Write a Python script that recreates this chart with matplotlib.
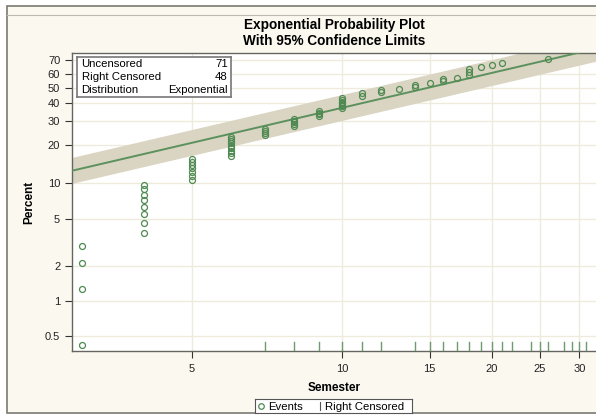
import numpy as np
import matplotlib.pyplot as plt
from matplotlib.patches import Rectangle

# failure times (semester) and their plotting positions (percent)
event_times = [3, 4, 5, 6, 7, 8, 9, 10, 11, 12, 13, 14, 15, 16, 17, 18, 19, 20, 21, 26]
event_pct = [
    [0.42, 1.26, 2.10, 2.94],
    [3.78, 4.62, 5.46, 6.30, 7.14, 7.98, 8.82, 9.66],
    [10.50, 11.34, 12.18, 13.03, 13.87, 14.71, 15.55],
    [16.39, 17.23, 18.07, 18.91, 19.75, 20.59, 21.43, 22.27, 23.11],
    [23.95, 24.79, 25.63, 26.47],
    [27.6, 28.5, 29.4, 30.3, 31.3],
    [32.7, 33.6, 34.5, 35.4],
    [37.1, 38.1, 39.0, 40.0, 41.0, 41.9, 42.9],
    [44.5, 46.3],
    [47.0, 48.5],
    [49.4],
    [50.8, 52.2],
    [53.6],
    [54.8, 56.0],
    [57.1],
    [59.1, 61.4, 63.5],
    [64.7],
    [66.4],
    [68.1],
    [70.7],
]
censor_times = [7, 8, 9, 10, 11, 12, 14, 15, 16, 17, 18, 19, 20, 21, 22, 24, 25, 26, 28, 29, 30, 31]

# exponential fit (scale) and 95% limits
theta = 21.5
theta_lo = 16.5
theta_hi = 27.6

n_uncens = 71
n_cens = 48

xticks = [5, 10, 15, 20, 25, 30]
yticks = [0.5, 1, 2, 5, 10, 20, 30, 40, 50, 60, 70]

green = '#4f8a52'
line_green = '#5c915e'
cens_green = '#6f9a70'
band = '#dad5c2'
cream = '#fbf8ef'
grid = '#eeebdc'

plt.rcParams['font.family'] = ['Liberation Sans', 'DejaVu Sans']


def fwd(p):
    p = np.clip(np.asarray(p, dtype=float), 1e-6, 99.999)
    return np.log(-np.log(1 - p / 100.0))


def inv(y):
    return 100.0 * (1 - np.exp(-np.exp(y)))


fig = plt.figure(figsize=(5.96, 4.2), dpi=100)
fig.patch.set_facecolor('white')
W, H = 596.0, 420.0

# outer frame
fig.add_artist(Rectangle((7 / W, 1 - 413 / H), 600 / W, (413 - 6) / H, transform=fig.transFigure,
                         facecolor=cream, edgecolor='#7a7a72', lw=1.2, zorder=-10))
fig.add_artist(plt.Line2D([7 / W, 1], [1 - 15 / H, 1 - 15 / H], transform=fig.transFigure,
                          color='#bdbab0', lw=0.8, zorder=-9))

ax = fig.add_axes([72 / W, 1 - 351 / H, (596 - 72) / W, (351 - 53) / H])
ax.set_facecolor('white')
ax.set_xscale('log')
ax.set_yscale('function', functions=(fwd, inv))
ax.set_xlim(2.87, 32.4)
ax.set_ylim(0.372, 74.9)

# confidence band and fitted line
tt = np.geomspace(2.8, 33, 200)
ax.fill_between(tt, 100 * (1 - np.exp(-tt / theta_lo)), 100 * (1 - np.exp(-tt / theta_hi)),
                color=band, lw=0, zorder=2)
ax.plot(tt, 100 * (1 - np.exp(-tt / theta)), color=line_green, lw=1.4, zorder=3)

# events
for t, ps in zip(event_times, event_pct):
    ax.plot([t] * len(ps), ps, 'o', ms=4.3, mfc='none', mec=green, mew=0.9, zorder=4)

# right-censored ticks along the bottom
for t in censor_times:
    ax.plot([t, t], [0, 0.03], color=cens_green, lw=1.0, transform=ax.get_xaxis_transform(), zorder=4)

ax.set_xticks(xticks)
ax.set_xticklabels([str(v) for v in xticks])
ax.xaxis.set_minor_locator(plt.NullLocator())
ax.set_yticks(yticks)
ax.set_yticklabels([f'{v:g}' for v in yticks])
ax.yaxis.set_minor_locator(plt.NullLocator())
ax.grid(True, color=grid, lw=1.0, zorder=0)
ax.set_axisbelow(True)
ax.tick_params(axis='both', labelsize=8, colors='#333333', length=5, width=0.8, labelcolor='#222222')
ax.tick_params(axis='x', pad=4)
for s in ['left', 'bottom', 'top']:
    ax.spines[s].set_color('#666660')
    ax.spines[s].set_linewidth(1.0)
ax.spines['right'].set_visible(False)

ax.set_xlabel('Semester', fontsize=8.5, fontweight='bold', labelpad=6)
ax.set_ylabel('Percent', fontsize=8.5, fontweight='bold', labelpad=7)

fig.text(334 / W, 1 - 25 / H, 'Exponential Probability Plot', ha='center', va='center',
         fontsize=9.8, fontweight='bold')
fig.text(334 / W, 1 - 41 / H, 'With 95% Confidence Limits', ha='center', va='center',
         fontsize=9.8, fontweight='bold')

# inset summary table
x0, x1, y0, y1 = 77, 231, 57, 97
ax_tab = fig.add_axes([x0 / W, 1 - y1 / H, (x1 - x0) / W, (y1 - y0) / H])
ax_tab.set_xlim(0, 1)
ax_tab.set_ylim(0, 1)
ax_tab.set_xticks([])
ax_tab.set_yticks([])
ax_tab.set_facecolor('white')
for s in ax_tab.spines.values():
    s.set_color('#777777')
    s.set_linewidth(1.2)
rows = [('Uncensored', str(n_uncens)), ('Right Censored', str(n_cens)), ('Distribution', 'Exponential')]
for i, (k, v) in enumerate(rows):
    yy = 0.82 - i * 0.32
    ax_tab.text(0.03, yy, k, fontsize=8.2, va='center', ha='left')
    ax_tab.text(0.98, yy, v, fontsize=8.2, va='center', ha='right')

# legend box at the bottom
lx0, lx1, ly0, ly1 = 255, 412, 399, 413
ax_leg = fig.add_axes([lx0 / W, 1 - ly1 / H, (lx1 - lx0) / W, (ly1 - ly0) / H])
ax_leg.set_xlim(lx0, lx1)
ax_leg.set_ylim(0, 1)
ax_leg.set_xticks([])
ax_leg.set_yticks([])
ax_leg.set_facecolor('white')
for s in ax_leg.spines.values():
    s.set_color('#555555')
    s.set_linewidth(0.8)
ax_leg.plot([261], [0.5], 'o', ms=4, mfc='none', mec=green, mew=0.9)
ax_leg.text(268, 0.45, 'Events', fontsize=8.2, va='center')
ax_leg.plot([320, 320], [0.2, 0.8], color='#555555', lw=0.8)
ax_leg.text(325, 0.45, 'Right Censored', fontsize=8.2, va='center')

fig.savefig('out.png', dpi=100, facecolor=fig.get_facecolor())
